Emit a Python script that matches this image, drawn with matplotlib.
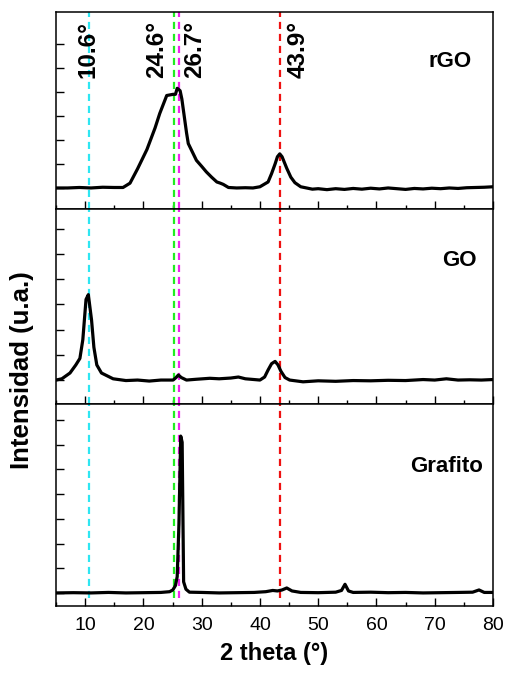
import matplotlib
matplotlib.use("Agg")
from matplotlib import pyplot as plt
from matplotlib.ticker import MultipleLocator

plt.rcParams['font.family'] = ['Liberation Sans', 'DejaVu Sans']

# --- data (arbitrary intensity units, baseline = 0) ---
rgo_x = [5, 7, 9, 11, 13, 15, 16.5, 17.7, 19, 20.6, 22, 22.8, 23.6, 24.0, 25.1, 25.5,
         25.8, 26.3, 26.6, 27.0, 27.4, 27.7, 28.4, 29.1, 30.0, 30.8, 31.7, 32.6, 33.2,
         33.7, 34.6, 36, 37.5, 38.8, 40, 41.4, 42.0, 42.6, 43.0, 43.4, 43.8, 44.6, 45.3,
         46, 47, 48, 49, 50, 51.5, 53, 54.5, 56, 57.5, 59, 60.5, 62, 63.5, 65, 66.5, 68,
         69.5, 71, 72.5, 74, 75.5, 77, 78.5, 80]
rgo_y = [0, 0, 0.02, 0, 0.03, 0.02, 0.02, 0.2, 0.8, 1.6, 2.5, 3.1, 3.6, 3.85, 3.9, 3.9,
         4.15, 4.05, 3.7, 3.0, 2.3, 1.85, 1.5, 1.15, 0.9, 0.67, 0.45, 0.25, 0.2,
         0.15, 0.02, 0, 0.01, 0, 0.05, 0.25, 0.6, 1.0, 1.3, 1.42, 1.3, 0.82, 0.45,
         0.22, 0.05, 0, -0.05, -0.03, -0.07, -0.03, -0.06, -0.02, -0.05, -0.01, -0.04, 0.0,
         -0.03, -0.06, -0.02, -0.04, -0.01, -0.03, 0.0, -0.02, 0.01, 0.02, 0.03, 0.05]

go_x = [5, 6, 7.4, 8.4, 9.1, 9.6, 10.15, 10.55, 11.1, 11.5, 12.0, 12.8, 14.8, 17, 19, 21,
        23, 25.1, 25.6, 26.0, 26.5, 27.4, 29, 31.4, 33, 35, 36.3, 37.5, 40, 40.8, 41.4,
        42.0, 42.6, 43.1, 43.6, 44.3, 45.1, 47.4, 50, 53, 56, 59, 62, 65, 68, 70, 72, 74,
        76, 78, 80]
go_y = [0, 0.05, 0.28, 0.6, 0.86, 1.6, 3.2, 3.39, 2.38, 1.3, 0.6, 0.28, 0.05, -0.02, 0.0,
        -0.04, 0.0, 0, 0.1, 0.2, 0.1, 0, 0.03, 0.07, 0.05, 0.08, 0.12, 0.05, 0, 0.12, 0.4,
        0.65, 0.74, 0.6, 0.35, 0.1, 0, -0.07, -0.03, -0.05, -0.02, -0.03, -0.01, -0.02,
        0.02, 0.0, 0.05, 0.0, 0.01, 0, 0.02]

graf_x = [5, 8, 11, 14, 17, 20, 23, 24.5, 25.05, 25.5, 25.8, 26.1, 26.4, 26.65, 26.9,
          27.3, 27.9, 30, 33, 36, 39, 41, 42.2, 43, 43.8, 44.6, 45.5, 47, 50, 53, 54.0,
          54.6, 55.2, 56, 59, 62, 65, 68, 71, 74, 76.5, 77.6, 78.5, 80]
graf_y = [0, 0.01, 0, 0.02, 0, 0.01, 0.02, 0.05, 0.12, 0.3, 0.66, 2.8, 6.35, 6.1, 0.45,
          0.15, 0.03, 0.02, 0, 0.01, 0.02, 0.05, 0.1, 0.08, 0.12, 0.2, 0.08, 0.02, 0.01,
          0.03, 0.1, 0.35, 0.08, 0.02, 0.03, 0.01, 0.02, 0.0, 0.01, 0.02, 0.03, 0.12, 0.02,
          0.02]

samples = ['rGO', 'GO', 'Grafito']
peak_pos = [10.7, 25.3, 26.05, 43.4]
peak_colors = ['#2ee6f2', '#22ee22', '#ee22ee', '#ee1111']
peak_labels = ['10.6°', '24.6°', '26.7°', '43.9°']
label_x = [10.5, 22.3, 28.8, 46.5]

fig = plt.figure(figsize=(5.06, 6.75), dpi=100)

# panel rectangles (left, bottom, width, height) in figure fractions
rects = [(0.1107, 0.6904, 0.8636, 0.2919),
         (0.1107, 0.4015, 0.8636, 0.2889),
         (0.1107, 0.1022, 0.8636, 0.2993)]
ylims = [(-0.875, 7.33), (-0.95, 6.79), (-0.53, 7.65)]
yticks = [range(0, 7), range(0, 7), range(0, 8)]
series = [(rgo_x, rgo_y), (go_x, go_y), (graf_x, graf_y)]
name_pos = [(76.4, 5.25), (77.2, 4.76), (78.2, 5.1)]

axes = []
for i, rect in enumerate(rects):
    ax = fig.add_axes(rect)
    axes.append(ax)
    x, y = series[i]
    ax.plot(x, y, color='black', linewidth=2.3, zorder=3)
    ymin = 0.04 if i == 2 else 0
    for pos, c in zip(peak_pos, peak_colors):
        ax.axvline(pos, ymin=ymin, color=c, linewidth=1.6, linestyle=(0, (3.2, 2.2)), zorder=2)
    ax.set_xlim(5, 80)
    ax.set_ylim(*ylims[i])
    ax.set_yticks(list(yticks[i]))
    ax.yaxis.set_ticklabels([])
    ax.xaxis.set_major_locator(MultipleLocator(10))
    ax.xaxis.set_minor_locator(MultipleLocator(5))
    ax.tick_params(axis='x', which='major', direction='in', length=6, width=1, pad=8,
                   labelsize=14)
    ax.tick_params(axis='x', which='minor', direction='in', length=3, width=1)
    ax.tick_params(axis='y', which='major', direction='in', length=6, width=1)
    if i < 2:
        ax.xaxis.set_ticklabels([])
    for sp in ax.spines.values():
        sp.set_linewidth(1.1)
    ax.text(name_pos[i][0], name_pos[i][1], samples[i], ha='right', va='center',
            fontsize=16, fontweight='bold')

top = axes[0]
for lx, lab in zip(label_x, peak_labels):
    top.text(lx, 6.95, lab, rotation=90, ha='center', va='top', fontsize=17.5,
             fontweight='bold', zorder=4)

fig.text(0.044, 0.452, 'Intensidad (u.a.)', rotation=90, ha='center', va='center',
         fontsize=18.5, fontweight='bold')
axes[2].set_xlabel('2 theta (°)', fontsize=17, fontweight='bold', labelpad=6)

plt.savefig('out.png', dpi=100)
plt.close()
